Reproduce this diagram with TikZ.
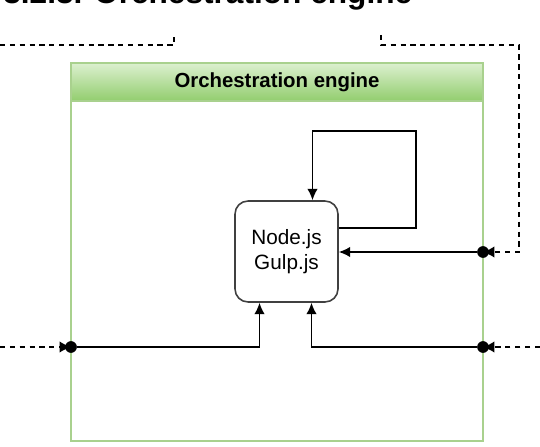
\documentclass[tikz,border=0pt]{standalone}
\usepackage{fontspec}
\setmainfont{Liberation Sans}
\usetikzlibrary{arrows.meta,positioning}
\definecolor{engineline}{HTML}{A9D18E}
\definecolor{enginetop}{HTML}{DCF0CF}
\definecolor{enginebot}{HTML}{92CD6E}
\tikzset{
  wire/.style={line width=0.9pt, -{Latex[length=6.5pt,width=6pt]}},
  feed/.style={line width=0.85pt, dash pattern=on 3pt off 2.6pt},
  feedin/.style={feed, -{Latex[length=6.5pt,width=6.5pt]}},
  joint/.style={circle, fill=black, inner sep=0pt, minimum size=6.5pt},
  appbox/.style={draw=black!75, line width=0.9pt, rounded corners=0.26cm,
    minimum width=2.06cm, minimum height=2.02cm, align=center,
    font=\fontsize{11.8}{14.2}\selectfont},
}

\begin{document}
\begin{tikzpicture}[x=0.02cm, y=-0.02cm]
\useasboundingbox (0,0) rectangle (540,446);
\begin{scope}
  \clip (0,0) rectangle (540,446);
  \node[anchor=base west, inner sep=0pt, font=\bfseries\fontsize{18}{18}\selectfont] (title) at (3,4) {3.2.3. Orchestration engine};
\end{scope}

% container
\node[draw=engineline, line width=1.1pt, minimum width=8.24cm, minimum height=7.56cm] (engine) at (277,252) {};
\node[anchor=north, draw=engineline, line width=1.1pt, top color=enginetop, bottom color=enginebot,
  minimum width=8.24cm, minimum height=0.76cm, font=\bfseries\fontsize{11.6}{13}\selectfont] (head) at (engine.north) {Orchestration engine};

\node[appbox] (app) at (286.5,251.5) {Node.js\\Gulp.js};

\node[joint] (jr) at (483,252) {};
\node[joint] (jl) at (71,347) {};
\node[joint] (jb) at (483,347) {};

% dashed feeds
\coordinate (outl) at (0,45);
\coordinate (tickl) at (174,33);
\coordinate (outr) at (381,35);
\coordinate (corner) at (519,45);
\coordinate (inl) at (0,347);
\coordinate (inr) at (540,347);
\draw[feed] (outl) -| (tickl);
\draw[feedin] (outr) |- (corner) |- (jr.center);
\draw[feedin] (inl) -- (jl.center);
\draw[feedin] (inr) -- (jb.center);

% wires
\draw[wire] ([yshift=0.47cm]app.east) -| (416,131) -| ([xshift=0.52cm]app.north);
\draw[wire] (jr) -- (app.east |- jr);
\draw[wire] (jl) -| ([xshift=-0.54cm]app.south);
\draw[wire] (jb) -| ([xshift=0.5cm]app.south);

\node[joint] at (jr) {};
\node[joint] at (jl) {};
\node[joint] at (jb) {};
\end{tikzpicture}
\end{document}
